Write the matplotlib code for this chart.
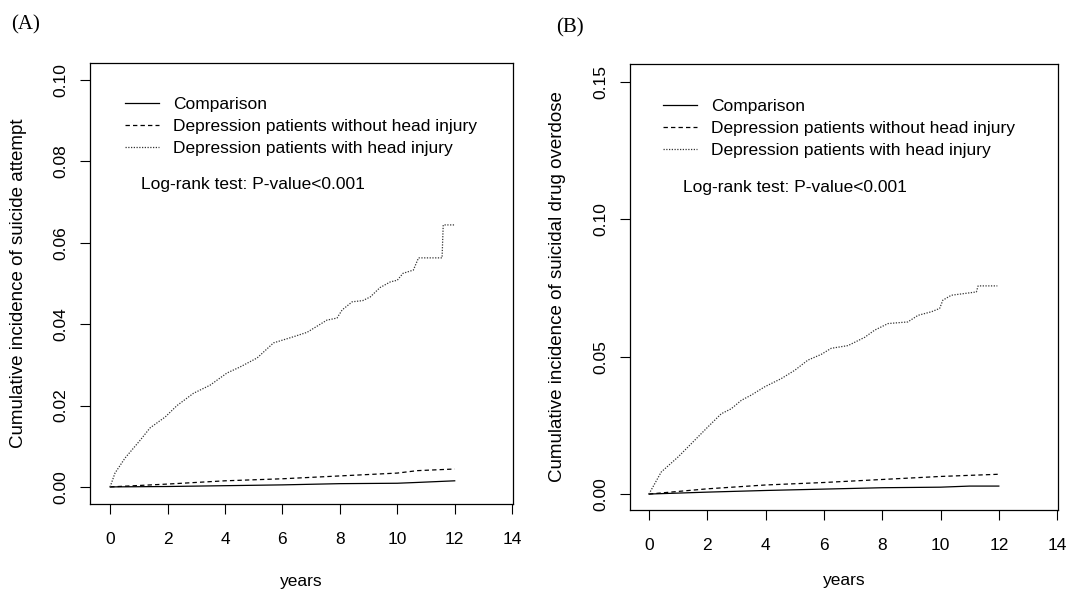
import matplotlib
matplotlib.use("Agg")
import matplotlib.pyplot as plt

plt.rcParams["font.family"] = ["Liberation Sans", "DejaVu Sans"]

W, H = 1088, 594

# ---- panel A: suicide attempt ----
a_years_hi = [0, 0.17, 0.52, 1.05, 1.39, 1.92, 2.33, 2.9, 3.48, 4.07, 4.53, 5.12, 5.69,
              6.38, 6.86, 7.55, 7.9, 8.08, 8.43, 8.8, 9.06, 9.4, 9.76, 10.0, 10.2,
              10.56, 10.74, 11.56, 11.6, 12.0]
a_with_hi = [0, 0.0034, 0.0071, 0.0115, 0.0145, 0.0172, 0.0200, 0.0230, 0.0250, 0.0280,
             0.0295, 0.0317, 0.0354, 0.0369, 0.0380, 0.0410, 0.0415, 0.0435, 0.0455,
             0.0458, 0.0467, 0.0490, 0.0504, 0.0508, 0.0525, 0.0533, 0.0563, 0.0563,
             0.0644, 0.0644]
a_years_lo = [0, 2, 4, 6, 8, 10, 10.7, 12]
a_without_hi = [0, 0.0007, 0.0015, 0.0020, 0.0027, 0.0034, 0.0040, 0.0044]
a_comparison = [0, 0.0001, 0.0003, 0.0005, 0.0008, 0.0009, 0.0011, 0.0015]

# ---- panel B: suicidal drug overdose ----
b_years_hi = [0, 0.42, 1.0, 1.45, 2.02, 2.48, 2.82, 3.17, 3.51, 3.97, 4.54, 5.0, 5.45,
              5.91, 6.25, 6.83, 7.4, 7.74, 8.2, 8.88, 9.23, 9.69, 9.97, 10.08, 10.37,
              11.23, 11.29, 11.95]
b_with_hi = [0, 0.0080, 0.0135, 0.0183, 0.0244, 0.0292, 0.0310, 0.0341, 0.0360, 0.0390,
             0.0420, 0.0450, 0.0487, 0.0508, 0.0530, 0.0540, 0.0570, 0.0596, 0.0620,
             0.0626, 0.0650, 0.0663, 0.0675, 0.0705, 0.0723, 0.0735, 0.0757, 0.0757]
b_years_lo = [0, 2, 4, 6, 8, 10, 11, 12]
b_without_hi = [0, 0.0019, 0.0033, 0.0042, 0.0053, 0.0064, 0.0068, 0.0072]
b_comparison = [0, 0.0007, 0.0013, 0.0018, 0.0023, 0.0025, 0.0029, 0.0029]

legend_labels = ["Comparison",
                 "Depression patients without head injury",
                 "Depression patients with head injury"]
x_ticks = [0, 2, 4, 6, 8, 10, 12, 14]


def px_rect(l, t, r, b):
    return [l / W, 1 - b / H, (r - l) / W, (b - t) / H]


def panel(fig, rect, xlim, ylim, yticks, ylabels, lo_x, comp, without, hi_x, withh,
          ylabel, ylabel_px, letter, letter_px, leg_anchor, text_pos, xlab_pad):
    ax = fig.add_axes(px_rect(*rect))
    l1, = ax.plot(lo_x, comp, color="black", lw=0.9, ls="-")
    l2, = ax.plot(lo_x, without, color="black", lw=0.9, ls=(0, (3.5, 2.5)))
    l3, = ax.plot(hi_x, withh, color="#333333", lw=0.9, ls=(0, (1, 1.2)))
    ax.set_xlim(*xlim)
    ax.set_ylim(*ylim)
    ax.set_xticks(x_ticks)
    ax.set_yticks(yticks)
    ax.set_yticklabels(ylabels, rotation=90, va="center")
    ax.tick_params(axis="both", direction="out", length=7.5, width=0.8,
                   labelsize=12.5, colors="black")
    ax.tick_params(axis="x", pad=xlab_pad[0])
    ax.tick_params(axis="y", pad=8)
    for s in ax.spines.values():
        s.set_linewidth(0.9)
    ax.set_xlabel("years", fontsize=12.5, labelpad=xlab_pad[1])
    fig.text(ylabel_px / W, 1 - ((rect[1] + rect[3]) / 2) / H, ylabel, rotation=90,
             ha="center", va="center", fontsize=13.5)
    fig.text(letter_px[0] / W, 1 - letter_px[1] / H, letter, ha="left", va="center",
             fontsize=15, family="Liberation Serif")
    ax.legend([l1, l2, l3], legend_labels, loc="upper left",
              bbox_to_anchor=(leg_anchor[0] / W, 1 - leg_anchor[1] / H),
              bbox_transform=fig.transFigure, frameon=False, fontsize=12.5,
              handlelength=1.95, handletextpad=0.8, labelspacing=0.4,
              borderpad=0, borderaxespad=0)
    ax.text(text_pos[0] / W, 1 - text_pos[1] / H, "Log-rank test: P-value<0.001",
            transform=fig.transFigure, ha="left", va="center", fontsize=12.5)
    return ax


fig = plt.figure(figsize=(W / 100, H / 100), dpi=100)

panel(fig, (90, 63, 513, 504), (-0.7, 14.03), (-0.0042, 0.1042),
      [0, 0.02, 0.04, 0.06, 0.08, 0.10], ["0.00", "0.02", "0.04", "0.06", "0.08", "0.10"],
      a_years_lo, a_comparison, a_without_hi, a_years_hi, a_with_hi,
      "Cumulative incidence of suicide attempt", 19, "(A)", (11, 25),
      (125, 97), (141, 185), (13, 19))

panel(fig, (630, 64, 1058, 510), (-0.65, 14.03), (-0.0058, 0.1564),
      [0, 0.05, 0.10, 0.15], ["0.00", "0.05", "0.10", "0.15"],
      b_years_lo, b_comparison, b_without_hi, b_years_hi, b_with_hi,
      "Cumulative incidence of suicidal drug overdose", 557, "(B)", (556, 28),
      (663, 99), (683, 187), (13, 14))

fig.savefig("out.png", dpi=100)
